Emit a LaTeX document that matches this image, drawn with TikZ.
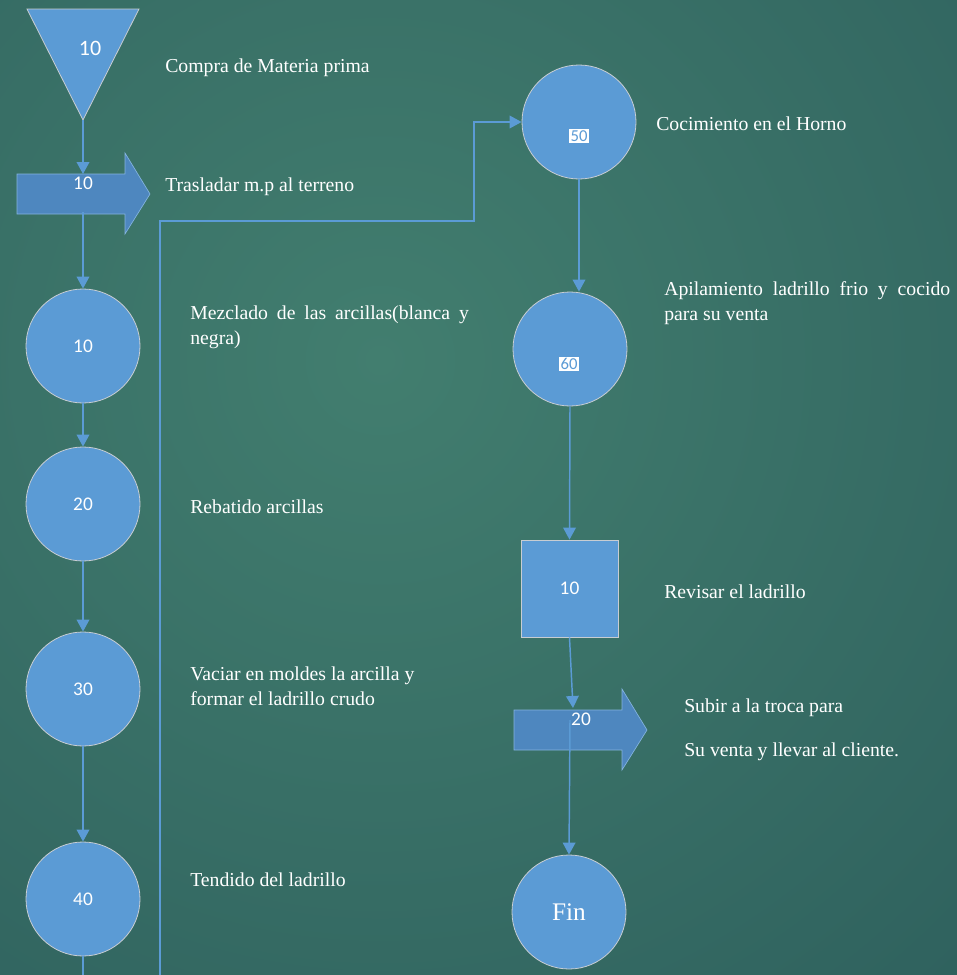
\documentclass[tikz,border=0pt]{standalone}
\usepackage{fontspec}
\setmainfont{Liberation Serif}
\newfontfamily\calibri{Carlito}
\usetikzlibrary{arrows.meta}
\definecolor{azul}{RGB}{91,155,213}
\definecolor{azulosc}{RGB}{78,135,191}
\definecolor{borde}{RGB}{200,205,210}
\definecolor{fondoin}{RGB}{66,126,111}
\definecolor{fondoout}{RGB}{38,84,86}

\begin{document}
\begin{tikzpicture}[x=0.75pt,y=-0.75pt,
    op/.style={circle,fill=azul,draw=borde,line width=0.6pt,minimum size=85.5pt,inner sep=0pt,
      text=white,font=\calibri\fontsize{14.5}{16}\selectfont},
    mov/.style={fill=azulosc,draw=azul!75!white,line width=0.5pt},
    flecha/.style={draw=azul,line width=1.1pt,-{Triangle[width=9.5pt,length=9pt]}},
    linea/.style={draw=azul,line width=1.1pt},
    txt/.style={anchor=west,text=white,inner sep=0pt,font=\fontsize{14.8}{18.75}\selectfont},
    numero/.style={text=white,inner sep=0pt,font=\calibri\fontsize{14.5}{16}\selectfont},
    etiq/.style={fill=white,text=azul,inner sep=0.8pt,font=\calibri\fontsize{12.5}{14}\selectfont}]
    \useasboundingbox (0,0) rectangle (957,975);
    % fondo
    \begin{scope}
    \clip (0,0) rectangle (957,975);
    \shade[inner color=fondoin,outer color=fondoout] (380,360) circle (1250);
    \end{scope}
    % columna izquierda
    \fill[azul] (27,9) -- (139,9) -- (83,120) -- cycle;
    \draw[borde,line width=0.6pt] (27,9) -- (139,9) -- (83,120) -- cycle;
    \coordinate (tri) at (83,120);
    \node[numero,font=\calibri\fontsize{16.5}{18}\selectfont] (t10) at (90,48) {10};
    \path[mov] (17,174) -- (125,174) -- (125,153) -- (150,194) -- (125,234) -- (125,214) -- (17,214) -- cycle;
    \coordinate (tr1top) at (83,174);
    \coordinate (tr1bot) at (83,212);
    \node[numero] (tr1n) at (83,183) {10};
    \node[op] (m10) at (83,346) {10};
    \node[op] (m20) at (83,504) {20};
    \node[op] (m30) at (83,689) {30};
    \node[op] (m40) at (83,899) {40};
    \coordinate (abajo) at (83,975);
    \coordinate (inicio) at (160,975);
    % columna derecha
    \node[op] (m50) at (579,122) {};
    \node[etiq] (e50) at (579,136) {50};
    \node[op] (m60) at (570,349) {};
    \node[etiq] (e60) at (569,364) {60};
    \node[rectangle,fill=azul,draw=borde,line width=0.6pt,minimum size=72.75pt,inner sep=0pt,
      text=white,font=\calibri\fontsize{14.5}{16}\selectfont] (rev) at (569.5,588.5) {10};
    \path[mov] (514,710) -- (622,710) -- (622,689) -- (647,730) -- (622,770) -- (622,750) -- (514,750) -- cycle;
    \coordinate (tr2top) at (573,708);
    \coordinate (tr2bot) at (570,720);
    \node[numero] (tr2n) at (581,719) {20};
    \node[op,font=\fontsize{19}{22}\selectfont] (fin) at (569,912) {Fin};
    % conectores
    \draw[flecha] (tri) -- (tr1top);
    \draw[flecha] (tr1bot) -- (m10.north);
    \draw[flecha] (m10.south) -- (m20.north);
    \draw[flecha] (m20.south) -- (m30.north);
    \draw[flecha] (m30.south) -- (m40.north);
    \draw[linea] (m40.south) -- (abajo);
    \draw[flecha] (inicio) |- (474,221) |- (m50.west);
    \draw[flecha] (m50.south) -- (m50.south |- m60.north);
    \draw[flecha] (m60.south) -- (rev.north);
    \draw[flecha] (rev.south) -- (tr2top);
    \draw[flecha] (tr2bot) -- (fin.north);
    % textos
    \node[txt] (d1) at (165,68) {Compra de Materia prima};
    \node[txt] (d2) at (165,187) {Trasladar m.p al terreno};
    \node[txt,anchor=north west,text width=209pt,align=justify] (d3) at (190,306)
      {Mezclado de las arcillas(blanca y\linebreak negra)};
    \node[txt] (d4) at (190,507) {Rebatido arcillas};
    \node[txt,anchor=north west,align=left] (d5) at (190,667)
      {Vaciar en moldes la arcilla y\\formar el ladrillo crudo};
    \node[txt] (d6) at (190,880) {Tendido del ladrillo};
    \node[txt] (d7) at (656,124) {Cocimiento en el Horno};
    \node[txt,anchor=north west,text width=214.5pt,align=justify] (d8) at (664,281)
      {Apilamiento ladrillo frio y cocido\linebreak para su venta};
    \node[txt] (d9) at (664,592) {Revisar el ladrillo};
    \node[txt] (d10) at (684,708) {Subir a la troca para};
    \node[txt] (d11) at (684,752) {Su venta y llevar al cliente.};
\end{tikzpicture}
\end{document}
